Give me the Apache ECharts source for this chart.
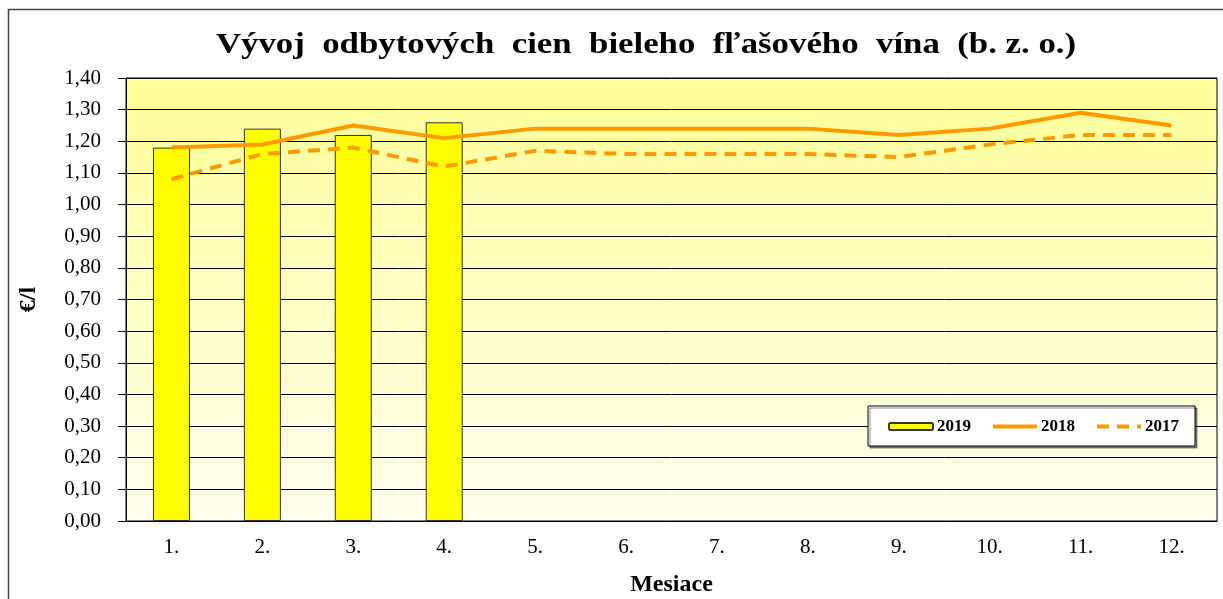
<!DOCTYPE html>
<html>
<head>
<meta charset="utf-8">
<script src="https://cdn.jsdelivr.net/npm/echarts@6/dist/echarts.min.js"></script>
<style>
  html, body { margin: 0; padding: 0; background: #fff; }
  #chart { width: 1223px; height: 599px; }
</style>
</head>
<body>
<div id="chart"></div>
<script>
// údaje odčítané z grafu
const months = ['1.', '2.', '3.', '4.', '5.', '6.', '7.', '8.', '9.', '10.', '11.', '12.']
const price2019 = [1.18, 1.24, 1.22, 1.26]
const price2018 = [1.18, 1.19, 1.25, 1.21, 1.24, 1.24, 1.24, 1.24, 1.22, 1.24, 1.29, 1.25]
const price2017 = [1.08, 1.16, 1.18, 1.12, 1.17, 1.16, 1.16, 1.16, 1.15, 1.19, 1.22, 1.22]

const serif = '"Liberation Serif", "Times New Roman", serif'
const fmt = v => v.toFixed(2).replace('.', ',')

const myChart = echarts.init(document.getElementById('chart'))

const option = {
  animation: false,
  graphic: [
    {
      // rámik celého grafu
      type: 'rect',
      shape: { x: 8.5, y: 9.5, width: 1400, height: 800 },
      style: { fill: 'none', stroke: '#444', lineWidth: 1.5 },
      silent: true
    },
    {
      // nadpis, v origináli je písmo roztiahnuté do šírky
      type: 'text',
      x: 646,
      y: 46,
      scaleX: 1.2,
      silent: true,
      style: {
        text: 'Vývoj  odbytových  cien  bieleho  fľašového  vína  (b. z. o.)',
        x: 0,
        y: 0,
        align: 'center',
        verticalAlign: 'middle',
        font: 'bold 29px ' + serif,
        fill: '#000'
      }
    }
  ],
  legend: {
    left: 868,
    top: 406,
    orient: 'horizontal',
    backgroundColor: '#fff',
    borderColor: '#000',
    borderWidth: 1,
    shadowColor: 'rgba(0,0,0,0.45)',
    shadowOffsetX: 2,
    shadowOffsetY: 2,
    padding: [12, 16, 11, 20],
    itemWidth: 44,
    itemHeight: 7,
    itemGap: 20,
    textStyle: { fontFamily: serif, fontWeight: 'bold', fontSize: 17, color: '#000', padding: [0, 0, 0, -1] },
    data: [
      { name: '2019' },
      { name: '2018', itemStyle: { opacity: 0 }, lineStyle: { width: 4 } },
      { name: '2017', itemStyle: { opacity: 0 }, lineStyle: { width: 4 } }
    ]
  },
  grid: {
    left: 126,
    right: 6,
    top: 78,
    bottom: 78,
    outerBoundsMode: 'none',
    show: true,
    borderColor: '#000',
    borderWidth: 1,
    backgroundColor: {
      type: 'linear', x: 0, y: 0, x2: 0, y2: 1,
      colorStops: [
        { offset: 0, color: '#ffff99' },
        { offset: 1, color: '#ffffee' }
      ]
    }
  },
  xAxis: {
    type: 'category',
    data: months,
    boundaryGap: true,
    name: 'Mesiace',
    nameLocation: 'middle',
    nameGap: 52,
    nameTextStyle: { fontFamily: serif, fontWeight: 'bold', fontSize: 24, color: '#000' },
    axisLine: { lineStyle: { color: '#000', width: 1 } },
    axisTick: { length: 7, interval: 0, lineStyle: { color: '#000' } },
    axisLabel: { fontFamily: serif, fontSize: 21, color: '#000', margin: 16 }
  },
  yAxis: {
    type: 'value',
    min: 0,
    max: 1.4,
    interval: 0.1,
    name: '€/l',
    nameLocation: 'middle',
    nameRotate: 90,
    nameGap: 85,
    nameTextStyle: { fontFamily: serif, fontWeight: 'bold', fontSize: 24, color: '#000' },
    axisLine: { show: true, lineStyle: { color: '#000', width: 1 } },
    axisTick: { show: true, length: 8, lineStyle: { color: '#000' } },
    axisLabel: { fontFamily: serif, fontSize: 21, color: '#000', margin: 25, formatter: fmt },
    splitLine: { lineStyle: { color: '#000', width: 1 } }
  },
  series: [
    {
      name: '2019',
      type: 'bar',
      data: price2019,
      barWidth: 37,
      itemStyle: { color: '#ffff00', borderColor: '#333', borderWidth: 1 }
    },
    {
      name: '2018',
      type: 'line',
      data: price2018,
      symbol: 'none',
      z: 3,
      lineStyle: { color: '#ff9900', width: 4 },
      itemStyle: { color: '#ff9900' }
    },
    {
      name: '2017',
      type: 'line',
      data: price2017,
      symbol: 'none',
      z: 3,
      lineStyle: { color: '#ff9900', width: 4, type: [12, 8] },
      itemStyle: { color: '#ff9900' }
    }
  ]
}

myChart.setOption(option)
</script>
</body>
</html>
